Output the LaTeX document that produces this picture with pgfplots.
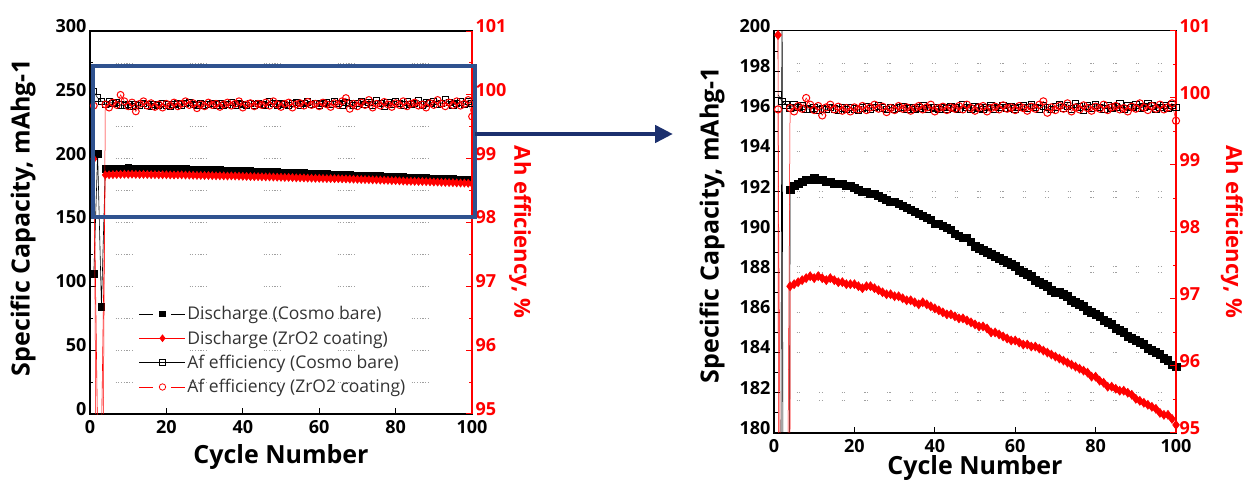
\documentclass[border=0pt]{standalone}
\usepackage{fontspec}
\setmainfont{Open Sans}
\usepackage{pgfplots}
\pgfplotsset{compat=1.18}
\usepackage{pgfplotstable}
\usetikzlibrary{arrows.meta}

\definecolor{boxblue}{RGB}{47,82,143}
\definecolor{arrowblue}{RGB}{28,48,110}
\definecolor{effred}{RGB}{255,0,0}
\definecolor{gridgray}{RGB}{160,160,160}

\newcommand\tickfont{\bfseries\fontsize{18}{18}\selectfont}
\newcommand\labfont{\bfseries\fontsize{25}{25}\selectfont}
\newcommand\efffont{\bfseries\fontsize{22}{22}\selectfont}
\newcommand\legfont{\fontsize{17.5}{17.5}\selectfont}

% cycle, discharge bare, discharge ZrO2, efficiency bare, efficiency ZrO2
\pgfplotstableread{
c dB dZ eB eZ
1 110 199.8 100.05 99.83
2 204 -20 99.95 90
3 84 -20 99.90 90
4 192.1 187.3 99.85 99.85
5 192.3 187.4 99.90 99.80
6 192.4 187.5 99.86 99.88
7 192.5 187.6 99.88 99.84
8 192.6 187.7 99.84 100.00
9 192.6 187.8 99.83 99.90
10 192.7 187.7 99.85 99.82
11 192.6 187.8 99.82 99.88
12 192.6 187.7 99.84 99.74
13 192.5 187.6 99.83 99.86
14 192.5 187.7 99.86 99.90
15 192.4 187.6 99.84 99.83
16 192.4 187.5 99.82 99.87
17 192.4 187.5 99.85 99.81
18 192.3 187.4 99.83 99.85
19 192.3 187.4 99.86 99.80
20 192.2 187.4 99.84 99.86
21 192.1 187.3 99.82 99.83
22 192.0 187.2 99.85 99.88
23 192.0 187.3 99.87 99.82
24 191.9 187.3 99.84 99.86
25 191.9 187.2 99.86 99.90
26 191.8 187.1 99.88 99.84
27 191.7 187.0 99.85 99.87
28 191.6 186.9 99.83 99.79
29 191.5 186.9 99.86 99.85
30 191.5 186.8 99.84 99.82
31 191.4 186.8 99.85 99.88
32 191.3 186.7 99.87 99.84
33 191.2 186.6 99.84 99.86
34 191.1 186.6 99.86 99.81
35 191.0 186.5 99.83 99.85
36 190.9 186.4 99.85 99.88
37 190.8 186.5 99.88 99.83
38 190.7 186.4 99.84 99.86
39 190.6 186.3 99.86 99.90
40 190.4 186.2 99.85 99.80
41 190.4 186.1 99.83 99.85
42 190.3 186.0 99.86 99.87
43 190.2 185.9 99.84 99.82
44 190.1 185.9 99.87 99.86
45 189.9 185.8 99.85 99.84
46 189.8 185.7 99.83 99.88
47 189.7 185.7 99.90 99.83
48 189.7 185.6 99.86 99.90
49 189.5 185.5 99.84 99.85
50 189.3 185.4 99.87 99.81
51 189.2 185.3 99.85 99.86
52 189.1 185.3 99.83 99.88
53 189.0 185.2 99.86 99.80
54 188.9 185.0 99.88 99.85
55 188.8 185.0 99.84 99.87
56 188.7 184.9 99.86 99.83
57 188.6 184.8 99.89 99.89
58 188.5 184.7 99.85 99.84
59 188.4 184.6 99.87 99.86
60 188.3 184.6 99.84 99.82
61 188.1 184.5 99.86 99.88
62 188.0 184.4 99.88 99.85
63 187.9 184.4 99.85 99.81
64 187.8 184.3 99.90 99.87
65 187.6 184.3 99.86 99.84
66 187.5 184.2 99.84 99.90
67 187.4 184.1 99.88 99.95
68 187.3 184.0 99.86 99.78
69 187.1 183.9 99.83 99.86
70 187.0 183.8 99.87 99.82
71 187.0 183.7 99.90 99.88
72 186.9 183.6 99.85 99.84
73 186.8 183.5 99.88 99.92
74 186.6 183.4 99.84 99.80
75 186.5 183.3 99.91 99.86
76 186.4 183.2 99.87 99.83
77 186.3 183.1 99.82 99.89
78 186.1 183.0 99.88 99.85
79 186.0 182.8 99.85 99.81
80 185.9 182.8 99.90 99.87
81 185.8 182.6 99.86 99.84
82 185.6 182.5 99.84 99.90
83 185.5 182.3 99.89 99.82
84 185.4 182.3 99.85 99.86
85 185.2 182.2 99.87 99.88
86 185.1 182.1 99.91 99.83
87 185.0 182.1 99.84 99.85
88 184.8 182.0 99.88 99.80
89 184.7 181.9 99.86 99.87
90 184.6 181.7 99.90 99.84
91 184.5 181.6 99.85 99.92
92 184.4 181.5 99.87 99.86
93 184.2 181.4 99.92 99.82
94 184.1 181.3 99.88 99.88
95 184.0 181.2 99.84 99.84
96 183.9 181.0 99.86 99.90
97 183.7 180.9 99.89 99.83
98 183.6 180.9 99.85 99.86
99 183.4 180.7 99.90 99.92
100 183.3 180.4 99.86 99.66
}\cyc

\pgfplotsset{
  capax/.style={
    scale only axis, anchor=south west,
    xmin=0, xmax=100, xtick={0,20,...,100},
    tick align=inside, xtick pos=left, ytick pos=left,
    axis line style={line width=1.1pt},
    tick style={black, line width=1pt},
    major tick length=6pt, minor tick length=3.5pt,
    ticklabel style={font=\tickfont},
    xticklabel style={yshift=-3pt},
    yticklabel style={yshift=5pt},
    /pgf/number format/assume math mode=true,
    label style={font=\labfont},
    xlabel={Cycle Number},
    ylabel={Specific Capacity, mAhg-1},
  },
  effax/.style={
    scale only axis, anchor=south west,
    xmin=0, xmax=100, ymin=95, ymax=101,
    ytick={95,...,101}, minor y tick num=1,
    axis x line=none, axis y line*=right,
    tick align=inside,
    y axis line style={effred, line width=1.1pt},
    tick style={effred, line width=1pt},
    major tick length=6pt, minor tick length=3.5pt,
    yticklabel style={font=\tickfont, text=effred, yshift=5pt},
    /pgf/number format/assume math mode=true,
    ylabel={Ah efficiency, \%},
    ylabel style={font=\efffont, text=effred, anchor=center, rotate=180},
  },
  legend image code/.code={\draw[mark repeat=2, mark phase=2, #1]
    plot coordinates {(0pt,0pt) (23pt,0pt) (46pt,0pt)};},
}

\begin{document}
\begin{tikzpicture}
\useasboundingbox (0,0) rectangle (1245pt,491pt);

% ---------- left panel ----------
\begin{axis}[capax,
  at={(90pt,77pt)}, width=382pt, height=383pt,
  ymin=0, ymax=300, ytick={0,50,...,300}, minor y tick num=1,
  xlabel style={at={(axis description cs:0.5,-0.112)}, anchor=center},
  ylabel style={at={(axis description cs:-0.175,0.512)}, anchor=center},
  legend style={draw=none, fill=none, at={(0.128,0.285)}, anchor=north west,
    inner sep=0pt, font=\legfont, text=black!80, row sep=6.5pt,
    nodes={inner sep=1.5pt}, cells={anchor=west}},
]
\pgfplotsinvokeforeach{25,50,75,100,125,150,175,200,225,275}{
  \draw[gridgray, line width=0.8pt,
    dash pattern={on 1.2pt off 1.5pt on 1.2pt off 1.5pt on 1.2pt off 1.5pt on 1.2pt off 1.5pt on 1.2pt off 1.5pt on 1.2pt off 1.5pt on 1.2pt off 56.6pt}]
    (axis cs:6.7,#1) -- (axis cs:100,#1);
}
\addplot[black, line width=0.6pt, mark=square*, mark size=3.3pt, forget plot] table[x=c, y=dB] {\cyc};
\addplot[effred, line width=0.6pt, mark=diamond*, mark size=4pt, forget plot] table[x=c, y=dZ] {\cyc};
\addlegendimage{black, line width=0.8pt, dash pattern=on 14pt off 18pt on 14pt, mark=square*, mark size=2.8pt, mark options={solid}}
\addlegendentry{Discharge (Cosmo bare)}
\addlegendimage{effred, line width=0.8pt, mark=diamond*, mark size=3.3pt}
\addlegendentry{Discharge (ZrO2 coating)}
\addlegendimage{black, line width=0.8pt, mark=square, mark size=2.8pt}
\addlegendentry{Af efficiency (Cosmo bare)}
\addlegendimage{effred, line width=0.8pt, dash pattern=on 14pt off 18pt on 14pt, mark=o, mark size=3.2pt, mark options={solid}}
\addlegendentry{Af efficiency (ZrO2 coating)}
\end{axis}

\begin{axis}[effax,
  at={(90pt,77pt)}, width=382pt, height=383pt,
  ylabel style={at={(axis description cs:1.126,0.475)}},
]
\addplot[black, line width=0.5pt, mark=square, mark size=3.1pt, mark options={line width=0.9pt}] table[x=c, y=eB] {\cyc};
\addplot[effred, line width=0.5pt, mark=o, mark size=3.4pt, mark options={line width=1pt}] table[x=c, y=eZ] {\cyc};
\end{axis}

% ---------- right panel ----------
\begin{axis}[capax,
  at={(774pt,58pt)}, width=402pt, height=402pt,
  ymin=180, ymax=200, ytick={180,182,...,200}, minor y tick num=1,
  xlabel style={at={(axis description cs:0.5,-0.087)}, anchor=center},
  ylabel style={at={(axis description cs:-0.154,0.517)}, anchor=center},
]
\pgfplotsinvokeforeach{198.4,198,195,194,192,191.7,188.3,188,186,185,184,182,181.6}{
  \draw[gridgray, line width=0.8pt, dash pattern={on 1.2pt off 1.3pt on 1.2pt off 18.9pt}]
    (axis cs:5.6,#1) -- (axis cs:100,#1);
}
\addplot[black, line width=0.6pt, mark=square*, mark size=3.8pt] table[x=c, y=dB] {\cyc};
\addplot[effred, line width=0.6pt, mark=diamond*, mark size=4.5pt] table[x=c, y=dZ] {\cyc};
\end{axis}

\begin{axis}[effax,
  at={(774pt,58pt)}, width=402pt, height=402pt,
  ylabel style={at={(axis description cs:1.139,0.5)}},
]
\addplot[black, line width=0.5pt, mark=square, mark size=3.3pt, mark options={line width=0.9pt}] table[x=c, y=eB] {\cyc};
\addplot[effred, line width=0.5pt, mark=o, mark size=3.6pt, mark options={line width=1pt}] table[x=c, y=eZ] {\cyc};
\end{axis}

% ---------- highlight box and arrow ----------
\draw[boxblue, line width=4.3pt] (93.3pt,274.3pt) rectangle (475pt,425pt);
\draw[arrowblue, line width=4.5pt, -{Triangle[length=18pt,width=17pt]}] (475pt,357pt) -- (673pt,357pt);
\end{tikzpicture}
\end{document}
